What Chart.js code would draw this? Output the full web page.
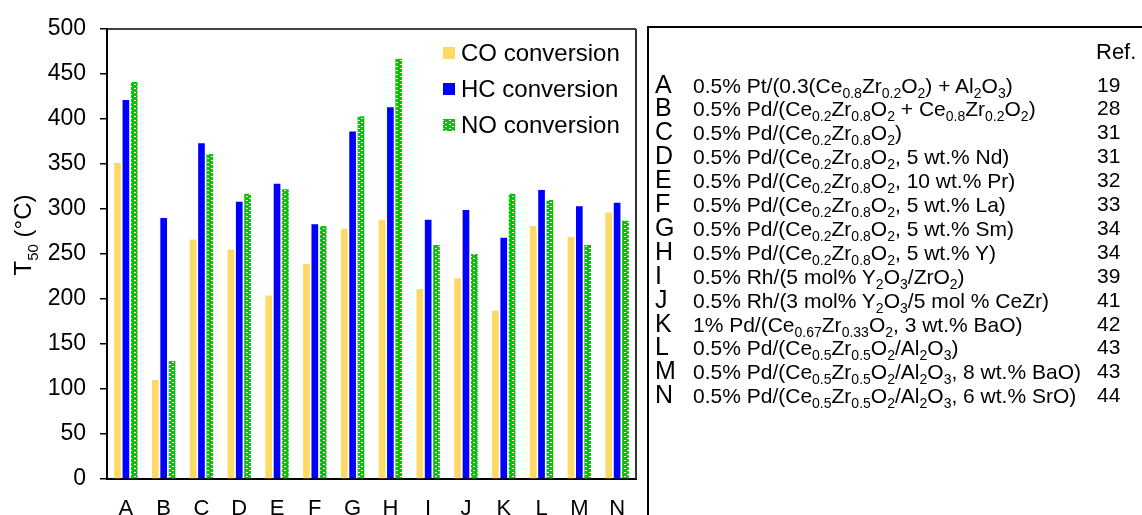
<!DOCTYPE html>
<html>
<head>
<meta charset="utf-8">
<script src="https://cdn.jsdelivr.net/npm/chart.js@4.4.1/dist/chart.umd.min.js"></script>
<style>
  html, body { margin: 0; padding: 0; overflow: hidden; background: #fff; }
  body { width: 1142px; height: 515px; position: relative; font-family: "Liberation Sans", Arial, sans-serif; color: #000; }
  #wrap { position: absolute; left: 0; top: 0; width: 1142px; height: 540px; }
  #tbl { position: absolute; left: 647px; top: 26px; width: 560px; height: 560px; border: 2px solid #000; }
  .hdr { position: absolute; left: 447px; top: 10px; font-size: 22px; line-height: 28px; }
  .row { position: absolute; left: 6px; height: 28px; font-size: 25px; line-height: 28px; white-space: nowrap; }
  .lt { display: inline-block; width: 38px; }
  .tx { font-size: 21px; }
  .rf { position: absolute; left: 442px; top: 1px; font-size: 21px; line-height: 28px; }
  sub { font-size: 14px; vertical-align: -5px; line-height: 0; }
</style>
</head>
<body>
<div id="wrap"><canvas id="chart" width="1142" height="540"></canvas></div>
<div id="tbl"><div class="hdr">Ref.</div></div>
<script>
const categories = ['A', 'B', 'C', 'D', 'E', 'F', 'G', 'H', 'I', 'J', 'K', 'L', 'M', 'N'];
const coConversion = [351, 110, 266, 255, 204, 239, 278, 288, 211, 223, 187, 281, 269, 296];
const hcConversion = [421, 290, 373, 308, 328, 283, 386, 413, 288, 299, 268, 321, 303, 307];
const noConversion = [441, 131, 361, 317, 322, 281, 403, 467, 260, 250, 317, 310, 260, 287];
const seriesNames = ['CO conversion', 'HC conversion', 'NO conversion'];

// table on the right, _{..} = subscript
const catalysts = [
  '0.5% Pt/(0.3(Ce_{0.8}Zr_{0.2}O_{2}) + Al_{2}O_{3})',
  '0.5% Pd/(Ce_{0.2}Zr_{0.8}O_{2} + Ce_{0.8}Zr_{0.2}O_{2})',
  '0.5% Pd/(Ce_{0.2}Zr_{0.8}O_{2})',
  '0.5% Pd/(Ce_{0.2}Zr_{0.8}O_{2}, 5 wt.% Nd)',
  '0.5% Pd/(Ce_{0.2}Zr_{0.8}O_{2}, 10 wt.% Pr)',
  '0.5% Pd/(Ce_{0.2}Zr_{0.8}O_{2}, 5 wt.% La)',
  '0.5% Pd/(Ce_{0.2}Zr_{0.8}O_{2}, 5 wt.% Sm)',
  '0.5% Pd/(Ce_{0.2}Zr_{0.8}O_{2}, 5 wt.% Y)',
  '0.5% Rh/(5 mol% Y_{2}O_{3}/ZrO_{2})',
  '0.5% Rh/(3 mol% Y_{2}O_{3}/5 mol % CeZr)',
  '1% Pd/(Ce_{0.67}Zr_{0.33}O_{2}, 3 wt.% BaO)',
  '0.5% Pd/(Ce_{0.5}Zr_{0.5}O_{2}/Al_{2}O_{3})',
  '0.5% Pd/(Ce_{0.5}Zr_{0.5}O_{2}/Al_{2}O_{3}, 8 wt.% BaO)',
  '0.5% Pd/(Ce_{0.5}Zr_{0.5}O_{2}/Al_{2}O_{3}, 6 wt.% SrO)'
];
const refs = ['19', '28', '31', '31', '32', '33', '34', '34', '39', '41', '42', '43', '43', '44'];

const tbl = document.getElementById('tbl');
categories.forEach((c, i) => {
  const row = document.createElement('div');
  row.className = 'row';
  row.style.top = (41.5 + i * 23.9) + 'px';
  const html = catalysts[i].replace(/_\{([^}]*)\}/g, '<sub>$1</sub>');
  row.innerHTML = `<span class="lt">${c}</span><span class="tx">${html}</span><span class="rf">${refs[i]}</span>`;
  tbl.appendChild(row);
});

function greenPattern() {
  const c = document.createElement('canvas');
  c.width = 7; c.height = 4;
  const g = c.getContext('2d');
  g.fillStyle = '#00C800';
  g.fillRect(0, 0, 7, 4);
  g.fillStyle = '#fff';
  g.fillRect(1, 0, 2, 1);
  g.fillRect(4, 2, 2, 1);
  return g.createPattern(c, 'repeat');
}

const FONT = '"Liberation Sans", Arial, sans-serif';
Chart.defaults.font.family = FONT;
Chart.defaults.color = '#000';

// frame on top/right, y title with subscript, legend inside the plot
const extras = {
  id: 'extras',
  afterDraw(chart) {
    const ctx = chart.ctx;
    const a = chart.chartArea;
    ctx.save();
    ctx.strokeStyle = '#000';
    ctx.lineWidth = 1.5;
    ctx.beginPath();
    ctx.moveTo(a.left, a.top);
    ctx.lineTo(a.right, a.top);
    ctx.stroke();
    ctx.strokeStyle = '#333';
    ctx.lineWidth = 2;
    ctx.beginPath();
    ctx.moveTo(a.right, a.top);
    ctx.lineTo(a.right, a.bottom);
    ctx.stroke();

    // legend
    ctx.font = '24px ' + FONT;
    ctx.textBaseline = 'middle';
    ctx.textAlign = 'left';
    chart.data.datasets.forEach((ds, i) => {
      const y = a.top + 24 + i * 36;
      ctx.fillStyle = ds.backgroundColor;
      ctx.fillRect(a.right - 193, y - 6, 12, 12);
      ctx.fillStyle = '#000';
      ctx.fillText(ds.label, a.right - 175, y + 1);
    });

    // y title: T50 (°C)
    ctx.translate(31, 235);
    ctx.rotate(-Math.PI / 2);
    ctx.textBaseline = 'alphabetic';
    ctx.font = '24px ' + FONT;
    const w1 = ctx.measureText('T').width;
    const w3 = ctx.measureText(' (°C)').width;
    ctx.font = '15px ' + FONT;
    const w2 = ctx.measureText('50').width;
    let x = -(w1 + w2 + w3) / 2;
    ctx.font = '24px ' + FONT;
    ctx.fillText('T', x, 0);
    x += w1;
    ctx.font = '15px ' + FONT;
    ctx.fillText('50', x, 7);
    x += w2;
    ctx.font = '24px ' + FONT;
    ctx.fillText(' (°C)', x, 0);
    ctx.restore();
  }
};

new Chart(document.getElementById('chart'), {
  type: 'bar',
  data: {
    labels: categories,
    datasets: [
      { label: seriesNames[0], data: coConversion, backgroundColor: '#FFD966' },
      { label: seriesNames[1], data: hcConversion, backgroundColor: '#0000FF' },
      { label: seriesNames[2], data: noConversion, backgroundColor: greenPattern() }
    ]
  },
  options: {
    responsive: false,
    animation: false,
    layout: { padding: { left: 0, top: 29, right: 506, bottom: 0 } },
    datasets: { bar: { categoryPercentage: 0.663, barPercentage: 0.8 } },
    plugins: { legend: { display: false }, tooltip: { enabled: false } },
    scales: {
      x: {
        grid: { display: false, drawTicks: false },
        border: { display: true, color: '#000', width: 2 },
        ticks: { font: { size: 22 }, padding: 17, color: '#000' },
        afterFit: s => { s.height = 61; }
      },
      y: {
        min: 0,
        max: 500,
        ticks: { stepSize: 50, font: { size: 23 }, padding: 14, color: '#000' },
        grid: { drawOnChartArea: false, drawTicks: true, tickLength: 7, color: '#000', lineWidth: 1.5 },
        border: { display: true, color: '#000', width: 2 },
        afterFit: s => { s.width = 107; }
      }
    }
  },
  plugins: [extras]
});
</script>
</body>
</html>
